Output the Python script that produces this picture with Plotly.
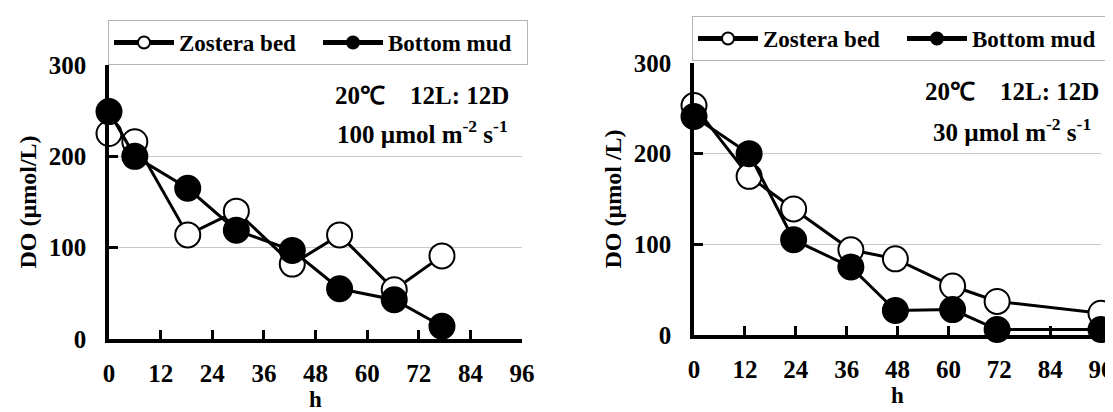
import plotly.graph_objects as go

# ---------------- data ----------------
hours_100 = [0, 6, 18.3, 29.6, 42.6, 53.6, 66.3, 77.4]
zostera_100 = [225, 216, 114, 140, 82, 114, 54, 91]
mud_100 = [249, 200, 165, 119, 97, 55, 43, 14]

hours_30 = [0, 13, 23.5, 37, 47.5, 61, 71.5, 96]
zostera_30 = [253, 175, 139, 94, 84, 54, 37, 24]
mud_30 = [241, 200, 105, 75, 27, 28, 6, 6]

x_ticks = [0, 12, 24, 36, 48, 60, 72, 84, 96]
y_ticks = [0, 100, 200, 300]

series_names = ["Zostera bed", "Bottom mud"]
ytitles = ["DO (µmol/L)", "DO (µmol /L)"]
cond_line1 = "20℃\u00a0\u00a0\u00a0\u00a012L:\u00a012D"
cond_line2 = ["100 µmol m<sup>-2</sup> s<sup>-1</sup>", "30 µmol m<sup>-2</sup> s<sup>-1</sup>"]

# ---------------- layout helpers ----------------
W, H = 1113, 412
FONT = "Liberation Serif"


def px_x(p):
    return p / W


def px_y(p):
    return 1 - p / H


fig = go.Figure()

panels = [
    dict(hours=hours_100, z=zostera_100, m=mud_100, xa="x", ya="y", legend="legend"),
    dict(hours=hours_30, z=zostera_30, m=mud_30, xa="x2", ya="y2", legend="legend2"),
]

for p in panels:
    fig.add_trace(go.Scatter(
        x=p["hours"], y=p["z"], name=series_names[0], mode="lines+markers",
        xaxis=p["xa"], yaxis=p["ya"], legend=p["legend"], cliponaxis=False,
        line=dict(color="black", width=3),
        marker=dict(symbol="circle", size=25, color="white", line=dict(color="black", width=2)),
    ))
    fig.add_trace(go.Scatter(
        x=p["hours"], y=p["m"], name=series_names[1], mode="lines+markers",
        xaxis=p["xa"], yaxis=p["ya"], legend=p["legend"], cliponaxis=False,
        line=dict(color="black", width=3),
        marker=dict(symbol="circle", size=25, color="black", line=dict(color="black", width=2)),
    ))

tickfont = dict(family=FONT, size=25, color="black", weight="bold")
titlefont = dict(family=FONT, size=24, color="black", weight="bold")
htitlefont = dict(family=FONT, size=23, color="black", weight="bold")


def xaxis(domain, anchor):
    return dict(
        domain=domain, anchor=anchor, range=[0, 96], tickvals=x_ticks,
        showline=True, linecolor="black", linewidth=3.5, mirror=False,
        ticks="inside", ticklen=9, tickwidth=3, tickcolor="black",
        showgrid=False, zeroline=False, tickfont=tickfont,
        ticklabelstandoff=9,
        title=dict(text="h", font=htitlefont, standoff=0),
        automargin=False,
    )


def yaxis(domain, anchor, title):
    return dict(
        domain=domain, anchor=anchor, range=[0, 300], tickvals=y_ticks,
        showline=True, linecolor="black", linewidth=3.5,
        ticks="inside", ticklen=9, tickwidth=3, tickcolor="black",
        showgrid=True, gridcolor="#c8c8c8", gridwidth=1, zeroline=False,
        tickfont=tickfont, ticklabelstandoff=14,
        title=dict(text=title, font=titlefont, standoff=6),
        automargin=False,
    )


legend_common = dict(
    orientation="h", xanchor="left", yanchor="top",
    bordercolor="#b4b4b4", borderwidth=1, bgcolor="white",
    font=dict(family=FONT, size=23, color="black", weight="bold"),
    itemsizing="constant", itemwidth=60, entrywidth=134, entrywidthmode="pixels",
    tracegroupgap=0,
)

fig.update_layout(
    width=W, height=H, template="none",
    paper_bgcolor="white", plot_bgcolor="white",
    margin=dict(l=0, r=0, t=0, b=0),
    showlegend=True,
    xaxis=xaxis([px_x(101), px_x(514)], "y"),
    yaxis=yaxis([px_y(331), px_y(57)], "x", ytitles[0]),
    xaxis2=xaxis([px_x(686), px_x(1093)], "y2"),
    yaxis2=yaxis([px_y(327), px_y(55)], "x2", ytitles[1]),
    legend=dict(x=px_x(100), y=px_y(12), **legend_common),
    legend2=dict(x=px_x(684), y=px_y(8), **legend_common),
)

annot_font = dict(family=FONT, size=25, color="black", weight="bold")
for cx, y1, y2, l2 in [(414, 87, 124, cond_line2[0]), (1004, 83, 122, cond_line2[1])]:
    fig.add_annotation(x=px_x(cx), y=px_y(y1), xref="paper", yref="paper",
                       text=cond_line1, showarrow=False, font=annot_font,
                       xanchor="center", yanchor="middle")
    fig.add_annotation(x=px_x(cx), y=px_y(y2), xref="paper", yref="paper",
                       text=l2, showarrow=False, font=annot_font,
                       xanchor="center", yanchor="middle")

fig.write_html("out.html")
